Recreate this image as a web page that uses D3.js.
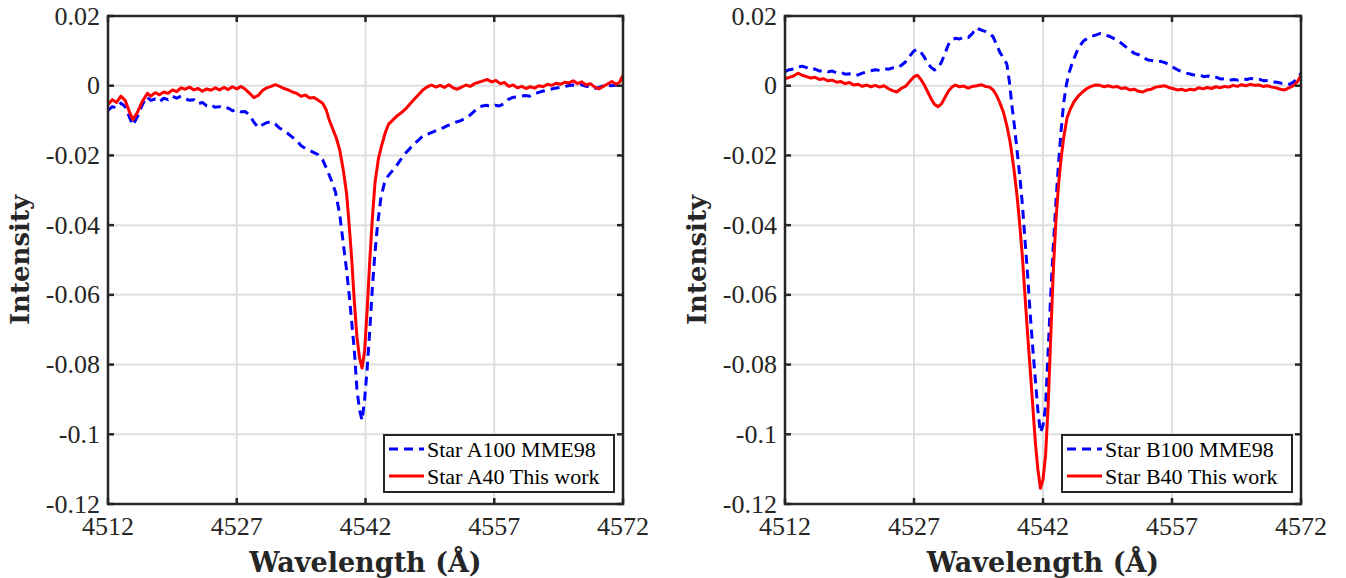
<!DOCTYPE html>
<html>
<head>
<meta charset="utf-8">
<title>Star spectra</title>
<script src="https://cdn.jsdelivr.net/npm/d3@7"></script>
<style>
  body { margin: 0; background: #fff; }
</style>
</head>
<body>
<svg id="chart" width="1346" height="578"></svg>
<script>
// tick values shared by both panels
var xTicks = [4512, 4527, 4542, 4557, 4572];
var yTicks = [0.02, 0, -0.02, -0.04, -0.06, -0.08, -0.1, -0.12];
var yTickLabels = ['0.02', '0', '-0.02', '-0.04', '-0.06', '-0.08', '-0.1', '-0.12'];

// [wavelength, intensity]
var starA100 = [
  [4512,-0.0071],[4512.5,-0.0060],[4513,-0.0064],[4513.5,-0.0050],[4514,-0.0060],[4514.5,-0.0090],
  [4514.9,-0.0113],[4515.4,-0.0090],[4516,-0.0055],[4516.5,-0.0032],[4517,-0.0042],[4517.5,-0.0038],
  [4518,-0.0046],[4518.5,-0.0036],[4519,-0.0040],[4519.5,-0.0030],[4520,-0.0036],[4520.5,-0.0030],
  [4521,-0.0037],[4521.5,-0.0042],[4522,-0.0040],[4522.5,-0.0052],[4523,-0.0048],[4523.5,-0.0058],
  [4524,-0.0055],[4524.5,-0.0062],[4525,-0.0060],[4525.5,-0.0066],[4526,-0.0064],[4526.5,-0.0072],
  [4527,-0.0069],[4527.5,-0.0075],[4528,-0.0074],[4528.5,-0.0085],[4529,-0.0105],[4529.5,-0.0120],
  [4530,-0.0112],[4530.5,-0.0106],[4531,-0.0103],[4531.5,-0.0110],[4532,-0.0122],[4532.5,-0.0128],
  [4533,-0.0138],[4533.5,-0.0148],[4534,-0.0158],[4534.5,-0.0172],[4535,-0.0180],[4535.5,-0.0186],
  [4536,-0.0192],[4536.5,-0.0198],[4537,-0.0212],[4537.5,-0.0240],[4538,-0.0270],[4538.5,-0.0305],
  [4539,-0.0370],[4539.4,-0.0450],[4539.8,-0.0530],[4540.1,-0.0600],[4540.4,-0.0680],[4540.7,-0.0760],
  [4541,-0.0870],[4541.3,-0.0930],[4541.6,-0.0960],[4541.9,-0.0900],[4542.2,-0.0810],[4542.5,-0.0700],
  [4542.8,-0.0580],[4543.1,-0.0480],[4543.4,-0.0400],[4543.8,-0.0320],[4544.2,-0.0280],[4544.6,-0.0260],
  [4545.1,-0.0245],[4545.6,-0.0230],[4546.1,-0.0212],[4546.6,-0.0195],[4547.1,-0.0182],[4547.6,-0.0168],
  [4548.1,-0.0158],[4548.6,-0.0146],[4549.1,-0.0140],[4549.6,-0.0135],[4550.1,-0.0130],[4550.6,-0.0126],
  [4551.1,-0.0120],[4551.6,-0.0114],[4552.1,-0.0110],[4552.6,-0.0104],[4553.1,-0.0100],[4553.6,-0.0094],
  [4554.1,-0.0086],[4554.6,-0.0075],[4555.1,-0.0064],[4555.6,-0.0058],[4556.1,-0.0056],[4556.6,-0.0060],
  [4557.1,-0.0056],[4557.6,-0.0058],[4558.1,-0.0052],[4558.6,-0.0040],[4559.1,-0.0034],[4559.6,-0.0032],
  [4560.1,-0.0030],[4560.6,-0.0028],[4561.1,-0.0030],[4561.6,-0.0024],[4562.1,-0.0020],[4562.6,-0.0016],
  [4563.1,-0.0013],[4563.6,-0.0010],[4564.1,-0.0007],[4564.6,-0.0005],[4565.1,-0.0003],[4565.6,0.0000],
  [4566.1,0.0002],[4566.6,0.0000],[4567.1,0.0003],[4567.6,-0.0001],[4568.1,-0.0004],[4568.6,-0.0008],
  [4569.1,-0.0006],[4569.6,-0.0001],[4570.1,0.0002],[4570.6,0.0000],[4571.1,0.0001],[4571.6,0.0002],
  [4572,0.0010]
];

var starA40 = [
  [4512,-0.0055],[4512.5,-0.0040],[4513,-0.0048],[4513.5,-0.0030],[4514,-0.0042],[4514.5,-0.0075],
  [4514.9,-0.0097],[4515.4,-0.0078],[4516,-0.0045],[4516.6,-0.0022],[4517,-0.0030],[4517.5,-0.0020],
  [4518,-0.0026],[4518.5,-0.0018],[4519,-0.0022],[4519.5,-0.0012],[4520,-0.0017],[4520.5,-0.0006],
  [4521,-0.0010],[4521.5,-0.0004],[4522,-0.0012],[4522.5,-0.0008],[4523,-0.0016],[4523.5,-0.0009],
  [4524,-0.0013],[4524.5,-0.0006],[4525,-0.0012],[4525.5,-0.0005],[4526,-0.0011],[4526.5,-0.0003],
  [4527,-0.0009],[4527.5,-0.0002],[4528,-0.0010],[4528.5,-0.0022],[4529,-0.0034],[4529.5,-0.0028],
  [4530,-0.0014],[4530.5,-0.0006],[4531,-0.0002],[4531.5,0.0003],[4532,-0.0002],[4532.5,-0.0008],
  [4533,-0.0012],[4533.5,-0.0018],[4534,-0.0022],[4534.5,-0.0030],[4535,-0.0027],[4535.5,-0.0035],
  [4536,-0.0034],[4536.5,-0.0042],[4537,-0.0050],[4537.4,-0.0068],[4537.8,-0.0100],[4538.2,-0.0125],
  [4538.6,-0.0150],[4539,-0.0185],[4539.4,-0.0240],[4539.8,-0.0310],[4540.1,-0.0400],[4540.4,-0.0500],
  [4540.7,-0.0620],[4541,-0.0720],[4541.3,-0.0780],[4541.6,-0.0810],[4541.9,-0.0760],[4542.2,-0.0640],
  [4542.5,-0.0500],[4542.8,-0.0380],[4543.1,-0.0280],[4543.5,-0.0210],[4543.9,-0.0170],[4544.3,-0.0135],
  [4544.7,-0.0110],[4545.2,-0.0098],[4545.7,-0.0086],[4546.2,-0.0077],[4546.7,-0.0066],[4547.2,-0.0052],
  [4547.7,-0.0038],[4548.2,-0.0025],[4548.7,-0.0012],[4549.2,-0.0003],[4549.7,0.0002],[4550.2,-0.0004],
  [4550.7,0.0001],[4551.2,-0.0005],[4551.7,0.0003],[4552.2,-0.0006],[4552.7,-0.0010],[4553.2,-0.0004],
  [4553.7,0.0002],[4554.2,-0.0002],[4554.7,0.0006],[4555.2,0.0010],[4555.7,0.0014],[4556.2,0.0018],
  [4556.7,0.0011],[4557.2,0.0015],[4557.7,0.0006],[4558.2,0.0009],[4558.7,-0.0002],[4559.2,0.0002],
  [4559.7,-0.0006],[4560.2,-0.0002],[4560.7,-0.0008],[4561.2,-0.0003],[4561.7,-0.0007],[4562.2,0.0000],
  [4562.7,-0.0003],[4563.2,0.0004],[4563.7,0.0001],[4564.2,0.0007],[4564.7,0.0004],[4565.2,0.0010],
  [4565.7,0.0008],[4566.2,0.0014],[4566.7,0.0006],[4567.2,0.0011],[4567.7,0.0002],[4568.2,0.0006],
  [4568.7,-0.0004],[4569.2,-0.0009],[4569.7,-0.0002],[4570.2,0.0005],[4570.7,0.0012],[4571.2,0.0004],
  [4571.6,0.0010],[4572,0.0030]
];

var starB100 = [
  [4512,0.0040],[4512.5,0.0046],[4513,0.0048],[4513.5,0.0054],[4514,0.0056],[4514.5,0.0052],
  [4515,0.0046],[4515.5,0.0048],[4516,0.0042],[4516.5,0.0044],[4517,0.0040],[4517.5,0.0042],
  [4518,0.0037],[4518.5,0.0038],[4519,0.0033],[4519.5,0.0034],[4520,0.0030],[4520.5,0.0031],
  [4521,0.0036],[4521.5,0.0040],[4522,0.0043],[4522.5,0.0046],[4523,0.0044],[4523.5,0.0049],
  [4524,0.0047],[4524.5,0.0051],[4525,0.0050],[4525.5,0.0058],[4526,0.0068],[4526.5,0.0085],
  [4527,0.0100],[4527.4,0.0104],[4527.8,0.0096],[4528.2,0.0082],[4528.6,0.0064],[4529,0.0052],
  [4529.4,0.0045],[4529.8,0.0050],[4530.2,0.0068],[4530.6,0.0092],[4531,0.0118],[4531.4,0.0132],
  [4531.8,0.0136],[4532.3,0.0134],[4532.8,0.0140],[4533.3,0.0138],[4533.8,0.0150],[4534.2,0.0166],
  [4534.6,0.0162],[4535,0.0158],[4535.4,0.0155],[4535.8,0.0150],[4536.2,0.0140],[4536.6,0.0118],
  [4537,0.0095],[4537.4,0.0080],[4537.8,0.0062],[4538.1,0.0010],[4538.4,-0.0060],[4538.7,-0.0120],
  [4539,-0.0190],[4539.3,-0.0260],[4539.6,-0.0340],[4539.9,-0.0440],[4540.2,-0.0540],[4540.5,-0.0650],
  [4540.8,-0.0750],[4541.1,-0.0840],[4541.4,-0.0930],[4541.7,-0.0995],[4542,-0.0975],[4542.3,-0.0920],
  [4542.6,-0.0760],[4542.9,-0.0600],[4543.2,-0.0460],[4543.5,-0.0335],[4543.8,-0.0225],[4544.1,-0.0130],
  [4544.4,-0.0050],[4544.7,0.0000],[4545,0.0035],[4545.4,0.0065],[4545.8,0.0090],[4546.2,0.0112],
  [4546.7,0.0128],[4547.2,0.0136],[4547.7,0.0142],[4548.2,0.0146],[4548.7,0.0150],[4549.2,0.0146],
  [4549.7,0.0142],[4550.2,0.0136],[4550.7,0.0130],[4551.2,0.0120],[4551.7,0.0110],[4552.2,0.0100],
  [4552.7,0.0092],[4553.2,0.0088],[4553.7,0.0080],[4554.2,0.0074],[4554.7,0.0072],[4555.2,0.0068],
  [4555.7,0.0070],[4556.2,0.0066],[4556.7,0.0060],[4557.2,0.0052],[4557.7,0.0045],[4558.2,0.0040],
  [4558.7,0.0036],[4559.2,0.0033],[4559.7,0.0030],[4560.2,0.0031],[4560.7,0.0026],[4561.2,0.0028],
  [4561.7,0.0023],[4562.2,0.0024],[4562.7,0.0019],[4563.2,0.0020],[4563.7,0.0016],[4564.2,0.0018],
  [4564.7,0.0016],[4565.2,0.0020],[4565.7,0.0018],[4566.2,0.0021],[4566.7,0.0017],[4567.2,0.0018],
  [4567.7,0.0014],[4568.2,0.0015],[4568.7,0.0011],[4569.2,0.0010],[4569.7,0.0007],[4570.2,0.0008],
  [4570.7,0.0004],[4571.2,0.0012],[4571.6,0.0022],[4572,0.0035]
];

var starB40 = [
  [4512,0.0020],[4512.5,0.0024],[4513,0.0028],[4513.5,0.0036],[4514,0.0030],[4514.5,0.0026],
  [4515,0.0022],[4515.5,0.0024],[4516,0.0018],[4516.5,0.0020],[4517,0.0014],[4517.5,0.0016],
  [4518,0.0010],[4518.5,0.0012],[4519,0.0006],[4519.5,0.0009],[4520,0.0002],[4520.5,0.0004],
  [4521,-0.0002],[4521.5,0.0002],[4522,-0.0003],[4522.5,0.0001],[4523,-0.0004],[4523.5,0.0000],
  [4524,-0.0008],[4524.5,-0.0014],[4525,-0.0018],[4525.5,-0.0008],[4526,-0.0002],[4526.5,0.0012],
  [4527,0.0026],[4527.4,0.0030],[4527.8,0.0018],[4528.2,0.0002],[4528.6,-0.0018],[4529,-0.0038],
  [4529.4,-0.0054],[4529.8,-0.0060],[4530.2,-0.0052],[4530.6,-0.0034],[4531,-0.0016],[4531.4,-0.0004],
  [4531.8,0.0002],[4532.3,-0.0003],[4532.8,-0.0001],[4533.3,-0.0007],[4533.8,-0.0002],[4534.3,0.0000],
  [4534.8,0.0003],[4535.3,-0.0002],[4535.8,-0.0004],[4536.2,-0.0012],[4536.6,-0.0028],[4537,-0.0050],
  [4537.4,-0.0076],[4537.8,-0.0115],[4538.2,-0.0165],[4538.6,-0.0235],[4539,-0.0320],[4539.3,-0.0400],
  [4539.6,-0.0490],[4539.9,-0.0600],[4540.2,-0.0710],[4540.5,-0.0810],[4540.8,-0.0915],[4541.1,-0.1020],
  [4541.4,-0.1100],[4541.7,-0.1155],[4542,-0.1130],[4542.3,-0.1060],[4542.6,-0.0917],[4542.9,-0.0720],
  [4543.2,-0.0530],[4543.5,-0.0388],[4543.8,-0.0285],[4544.1,-0.0210],[4544.4,-0.0150],[4544.8,-0.0092],
  [4545.2,-0.0066],[4545.6,-0.0046],[4546.1,-0.0030],[4546.6,-0.0018],[4547.1,-0.0008],[4547.6,-0.0002],
  [4548.1,0.0002],[4548.6,0.0001],[4549.1,-0.0003],[4549.6,0.0000],[4550.1,-0.0004],[4550.6,-0.0002],
  [4551.1,-0.0008],[4551.6,-0.0006],[4552.1,-0.0012],[4552.6,-0.0010],[4553.1,-0.0016],[4553.6,-0.0018],
  [4554.1,-0.0012],[4554.6,-0.0010],[4555.1,-0.0004],[4555.6,-0.0002],[4556.1,0.0000],[4556.6,-0.0005],
  [4557.1,-0.0008],[4557.6,-0.0012],[4558.1,-0.0010],[4558.6,-0.0014],[4559.1,-0.0010],[4559.6,-0.0012],
  [4560.1,-0.0006],[4560.6,-0.0009],[4561.1,-0.0005],[4561.6,-0.0008],[4562.1,-0.0003],[4562.6,-0.0006],
  [4563.1,-0.0002],[4563.6,-0.0004],[4564.1,0.0001],[4564.6,-0.0002],[4565.1,0.0003],[4565.6,0.0000],
  [4566.1,0.0004],[4566.6,0.0001],[4567.1,0.0002],[4567.6,-0.0002],[4568.1,0.0000],[4568.6,-0.0004],
  [4569.1,-0.0006],[4569.6,-0.0010],[4570.1,-0.0012],[4570.6,-0.0006],[4571.1,0.0000],[4571.6,0.0012],
  [4572,0.0030]
];

var serif = "'Liberation Serif', 'Times New Roman', serif";
var boldSerif = "'DejaVu Serif', serif";
var ink = '#262626';

var svg = d3.select('#chart');
var top_ = 16, bottom = 504;

var drawPanel = function(id, left, right, dashed, solid, names) {
  var x = d3.scaleLinear().domain([4512, 4572]).range([left, right]);
  var y = d3.scaleLinear().domain([-0.12, 0.02]).range([bottom, top_]);
  var g = svg.append('g');

  g.append('clipPath').attr('id', 'clip' + id)
    .append('rect')
    .attr('x', left).attr('y', top_)
    .attr('width', right - left).attr('height', bottom - top_);

  // grid
  g.selectAll('.gx').data(xTicks).enter().append('line')
    .attr('x1', function(d) { return x(d); }).attr('x2', function(d) { return x(d); })
    .attr('y1', top_).attr('y2', bottom)
    .attr('stroke', '#dfdfdf').attr('stroke-width', 2);
  g.selectAll('.gy').data(yTicks).enter().append('line')
    .attr('y1', function(d) { return y(d); }).attr('y2', function(d) { return y(d); })
    .attr('x1', left).attr('x2', right)
    .attr('stroke', '#dfdfdf').attr('stroke-width', 2);

  var line = d3.line()
    .x(function(d) { return x(d[0]); })
    .y(function(d) { return y(d[1]); });

  var lines = g.append('g').attr('clip-path', 'url(#clip' + id + ')');
  lines.append('path').datum(dashed)
    .attr('d', line).attr('fill', 'none')
    .attr('stroke', '#0000ff').attr('stroke-width', 3)
    .attr('stroke-dasharray', '9,6').attr('stroke-linejoin', 'round');
  lines.append('path').datum(solid)
    .attr('d', line).attr('fill', 'none')
    .attr('stroke', '#ff0000').attr('stroke-width', 3)
    .attr('stroke-linejoin', 'round');

  // inward ticks on all four sides
  var tl = 6;
  xTicks.forEach(function(t) {
    g.append('line').attr('x1', x(t)).attr('x2', x(t)).attr('y1', bottom).attr('y2', bottom - tl)
      .attr('stroke', ink).attr('stroke-width', 2.5);
    g.append('line').attr('x1', x(t)).attr('x2', x(t)).attr('y1', top_).attr('y2', top_ + tl)
      .attr('stroke', ink).attr('stroke-width', 2.5);
  });
  yTicks.forEach(function(t) {
    g.append('line').attr('y1', y(t)).attr('y2', y(t)).attr('x1', left).attr('x2', left + tl)
      .attr('stroke', ink).attr('stroke-width', 2.5);
    g.append('line').attr('y1', y(t)).attr('y2', y(t)).attr('x1', right).attr('x2', right - tl)
      .attr('stroke', ink).attr('stroke-width', 2.5);
  });

  g.append('rect')
    .attr('x', left).attr('y', top_)
    .attr('width', right - left).attr('height', bottom - top_)
    .attr('fill', 'none').attr('stroke', ink).attr('stroke-width', 2.5);

  // tick labels
  g.selectAll('.xl').data(xTicks).enter().append('text')
    .style('font-family', serif).style('font-size', '26px').attr('fill', ink)
    .attr('x', function(d) { return x(d); })
    .attr('y', 535)
    .attr('text-anchor', 'middle')
    .text(function(d) { return d; });
  g.selectAll('.yl').data(yTicks).enter().append('text')
    .style('font-family', serif).style('font-size', '26px').attr('fill', ink)
    .attr('x', left - 8)
    .attr('y', function(d) { return y(d) + 8.5; })
    .attr('text-anchor', 'end')
    .text(function(d, i) { return yTickLabels[i]; });

  // axis titles
  g.append('text')
    .style('font-family', boldSerif).style('font-weight', 'bold').style('font-size', '27px')
    .attr('fill', ink)
    .attr('x', (left + right) / 2).attr('y', 572)
    .attr('text-anchor', 'middle')
    .text('Wavelength (Å)');
  g.append('text')
    .style('font-family', boldSerif).style('font-weight', 'bold').style('font-size', '26px')
    .attr('fill', ink)
    .attr('transform', 'translate(' + (left - 79) + ',' + ((top_ + bottom) / 2) + ') rotate(-90)')
    .attr('text-anchor', 'middle')
    .text('Intensity');

  // legend, lower right
  var lw = 230, lh = 57;
  var lx = right - 9 - lw, ly = 435;
  var lg = g.append('g');
  lg.append('rect').attr('x', lx).attr('y', ly).attr('width', lw).attr('height', lh)
    .attr('fill', '#fff').attr('stroke', ink).attr('stroke-width', 2);
  lg.append('line').attr('x1', lx + 5).attr('x2', lx + 40).attr('y1', ly + 14).attr('y2', ly + 14)
    .attr('stroke', '#0000ff').attr('stroke-width', 3).attr('stroke-dasharray', '9,6');
  lg.append('line').attr('x1', lx + 5).attr('x2', lx + 40).attr('y1', ly + 41).attr('y2', ly + 41)
    .attr('stroke', '#ff0000').attr('stroke-width', 3);
  [names[0], names[1]].forEach(function(n, i) {
    lg.append('text')
      .style('font-family', serif).style('font-size', '22px').attr('fill', '#000')
      .attr('x', lx + 43).attr('y', ly + 21.5 + i * 27)
      .text(n);
  });
};

drawPanel('a', 108, 623, starA100, starA40, ['Star A100 MME98', 'Star A40 This work']);
drawPanel('b', 785, 1301, starB100, starB40, ['Star B100 MME98', 'Star B40 This work']);
</script>
</body>
</html>
